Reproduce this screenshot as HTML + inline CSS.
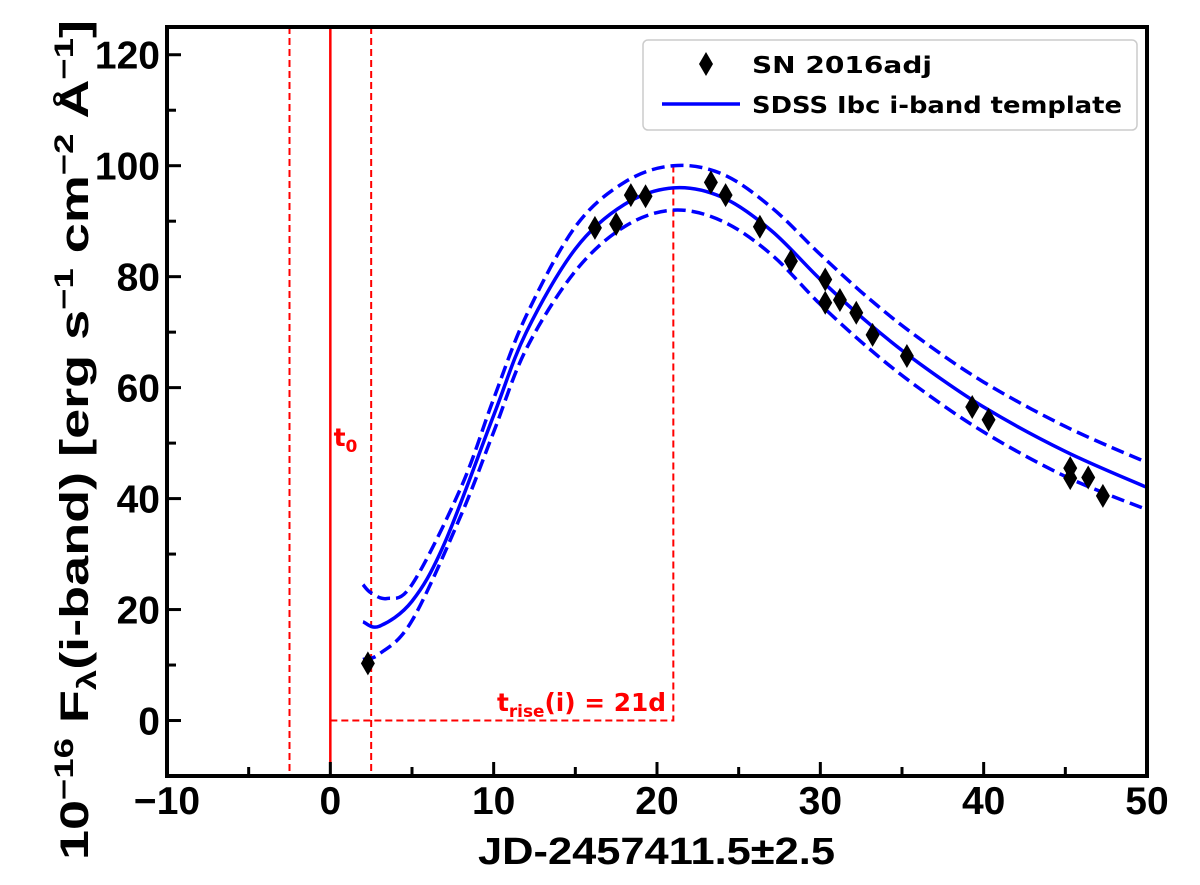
<!DOCTYPE html>
<html><head><meta charset="utf-8"><style>
body{margin:0;background:#fff;}
svg text{font-family:"Liberation Sans",sans-serif;font-weight:bold;}
svg text.dv{font-family:"DejaVu Sans","Liberation Sans",sans-serif;}
</style></head><body>
<svg id="chart" width="1200" height="880" viewBox="0 0 1200 880">
</svg>
<script>
const obsX=[2.3,16.2,17.5,18.4,19.3,23.3,24.2,26.3,28.2,30.3,30.3,31.2,32.2,33.2,35.3,39.3,40.3,45.3,45.3,46.4,47.3];
const obsY=[10.3,88.8,89.5,94.7,94.5,97,94.7,89,82.8,79.5,75.3,75.8,73.5,69.5,65.7,56.5,54.2,45.5,43.7,43.8,40.5];
const tplX=[2,3,5,7,10,12,15,18,21,24,27,30,33,36,40,45,50];
const tplMid=[17.8,17,21.5,32,55,70,85,93,96,94.3,88.3,79.5,71.5,64.5,56.5,48.5,42];
const upX=[2,2.5,3.5,5,8,10,12,15,18,21,24,27,30,33,36,40,45,50];
const tplUp=[24.5,23,22,24.5,42,58,73,89,97,100,98.5,92.5,84,76,69,61,53,46.5];
const loX=[2,3,5,8,10,12,15,18,21,24,27,30,33,36,40,45,50];
const tplLo=[11,12,18,37,52,67,81,89,92,90,84,75,67,60,52,44,38];
const xTicks=[-10,0,10,20,30,40,50];
const yTicks=[0,20,40,60,80,100,120];
const t0=0, tRise=21, tErr=2.5;

const L=167,R=1147,T=27,B=776,xmin=-10,xmax=50,ymin=-10,ymax=125;
const sx=v=>L+(v-xmin)/(xmax-xmin)*(R-L);
const sy=v=>B-(v-ymin)/(ymax-ymin)*(B-T);
const svg=document.getElementById('chart');
const NS='http://www.w3.org/2000/svg';
function mk(tag,attrs,parent){const e=document.createElementNS(NS,tag);for(const k in attrs)e.setAttribute(k,attrs[k]);(parent||svg).appendChild(e);return e;}
function path(xs,ys){const p=xs.map((x,i)=>[sx(x),sy(ys[i])]);let d='M'+p[0][0]+','+p[0][1];
 for(let i=0;i<p.length-1;i++){const p0=p[i-1]||p[i],p1=p[i],p2=p[i+1],p3=p[i+2]||p2;
 d+=' C'+(p1[0]+(p2[0]-p0[0])/6)+','+(p1[1]+(p2[1]-p0[1])/6)+' '+(p2[0]-(p3[0]-p1[0])/6)+','+(p2[1]-(p3[1]-p1[1])/6)+' '+p2[0]+','+p2[1];}return d;}
const clip=mk('clipPath',{id:'pc'});mk('rect',{x:L,y:T,width:R-L,height:B-T},clip);
const g=mk('g',{'clip-path':'url(#pc)'});
let e;
e=mk('line',{x1:sx(t0),x2:sx(t0),y1:T,y2:B,stroke:'#f00','stroke-width':2.5},g);

[t0-tErr,t0+tErr].forEach(v=>{e=mk('line',{x1:sx(v),x2:sx(v),y1:T,y2:B,stroke:'#f00','stroke-width':2,'stroke-dasharray':'7,4'},g);
});
e=mk('polyline',{points:`${sx(t0)},${sy(0)} ${sx(tRise)},${sy(0)} ${sx(tRise)},${sy(100.3)}`,fill:'none',stroke:'#f00','stroke-width':2,'stroke-dasharray':'7,4'},g);

e=mk('path',{d:path(upX,tplUp),fill:'none',stroke:'#00f','stroke-width':3.5,'stroke-dasharray':'13,6'},g);

e=mk('path',{d:path(loX,tplLo),fill:'none',stroke:'#00f','stroke-width':3.5,'stroke-dasharray':'13,6'},g);

e=mk('path',{d:path(tplX,tplMid),fill:'none',stroke:'#00f','stroke-width':3.5},g);

obsX.forEach((x,i)=>{const cx=sx(x),cy=sy(obsY[i]);
 e=mk('polygon',{points:`${cx},${cy-12} ${cx+7},${cy} ${cx},${cy+12} ${cx-7},${cy}`,fill:'#000'},g);
 });
e=mk('text',{x:sx(0.2),y:446,fill:'#f00','font-size':25,class:'dv'});e.innerHTML='t<tspan font-size="17" dy="6">0</tspan>';

e=mk('text',{x:497,y:711,fill:'#f00','font-size':25,class:'dv',textLength:169,lengthAdjust:'spacingAndGlyphs'});e.innerHTML='t<tspan font-size="17" dy="6">rise</tspan><tspan dy="-6">(i) = 21d</tspan>';

e=mk('rect',{x:L,y:T,width:R-L,height:B-T,fill:'none',stroke:'#000','stroke-width':4});

for(let v=-10;v<=50;v+=5){const x=sx(v),len=v%10===0?14:9;
 e=mk('line',{x1:x,x2:x,y1:B,y2:B-len,stroke:'#000','stroke-width':3});
 }
for(let v=-10;v<=120;v+=10){const y=sy(v),len=v%20===0?14:9;
 e=mk('line',{x1:L,x2:L+len,y1:y,y2:y,stroke:'#000','stroke-width':3});
 }
xTicks.forEach(v=>{e=mk('text',{x:sx(v),y:814,'font-size':39,'text-anchor':'middle'});e.textContent=v<0?'\u2212'+(-v):v;
 });
yTicks.forEach(v=>{e=mk('text',{x:160,y:sy(v)+14,'font-size':39,'text-anchor':'end'});e.textContent=v;
 });
e=mk('text',{x:478,y:864,'font-size':38,textLength:357,lengthAdjust:'spacingAndGlyphs'});e.textContent='JD-2457411.5\u00b12.5';

e=mk('text',{x:0,y:0,'font-size':40,textLength:840,lengthAdjust:'spacingAndGlyphs',transform:`translate(88,860) rotate(-90)`});
e.innerHTML='10<tspan font-size="27" dy="-15">\u221216</tspan><tspan dy="15"> F</tspan><tspan font-size="27" dy="8">\u03bb</tspan><tspan dy="-8">(i-band) [erg s</tspan><tspan font-size="27" dy="-15">\u22121</tspan><tspan dy="15"> cm</tspan><tspan font-size="27" dy="-15">\u22122</tspan><tspan dy="15"> \u00c5</tspan><tspan font-size="27" dy="-15">\u22121</tspan><tspan dy="15">]</tspan>';

const lg=mk('g',{});
mk('rect',{x:643,y:40,width:494,height:90,rx:5,fill:'#fff',stroke:'#ccc','stroke-width':1.5},lg);
e=mk('polygon',{points:'706,52 713,64 706,76 699,64',fill:'#000'},lg);

e=mk('text',{x:752,y:73,'font-size':23,class:'dv',textLength:180,lengthAdjust:'spacingAndGlyphs'},lg);e.textContent='SN 2016adj';

e=mk('line',{x1:662,x2:740,y1:104,y2:104,stroke:'#00f','stroke-width':3.5},lg);

e=mk('text',{x:752,y:113,'font-size':23,class:'dv',textLength:370,lengthAdjust:'spacingAndGlyphs'},lg);e.textContent='SDSS Ibc i-band template';

</script>
</body></html>
